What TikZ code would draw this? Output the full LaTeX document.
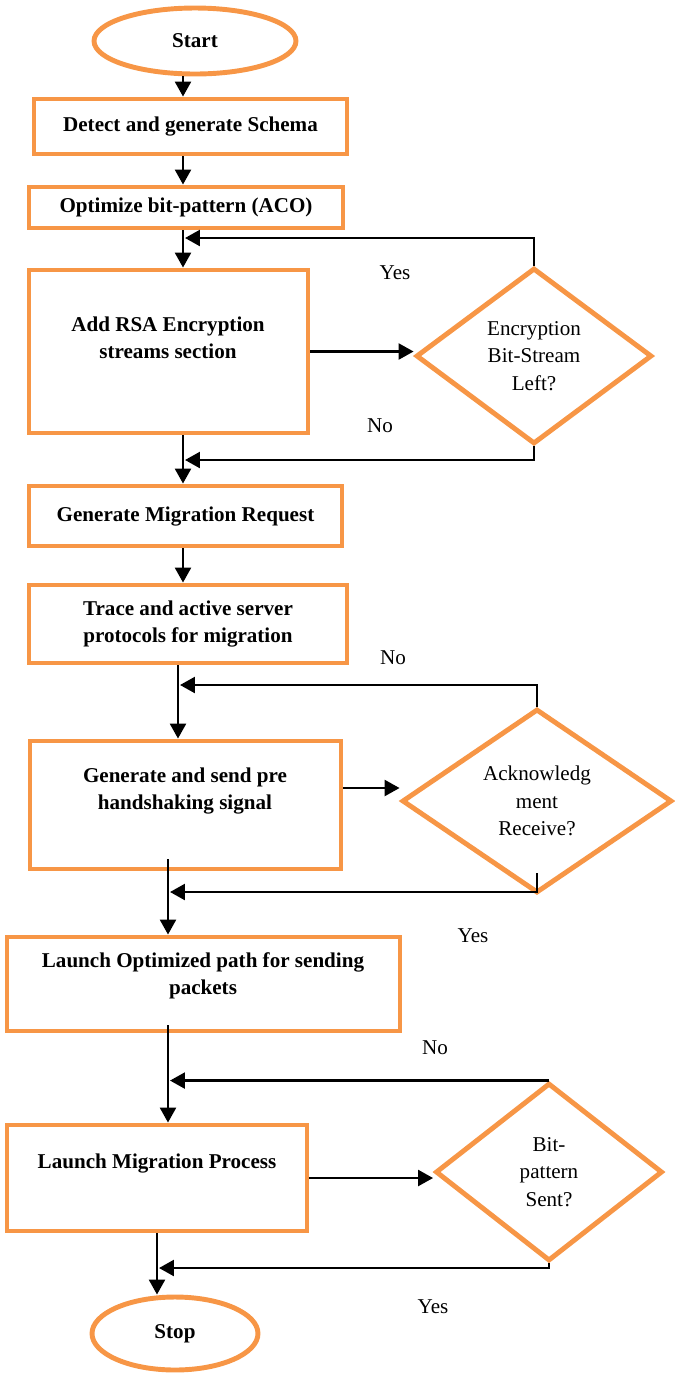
\documentclass[tikz,border=0pt]{standalone}
\usepackage{fontspec}
\setmainfont{Liberation Serif}
\usetikzlibrary{shapes.geometric}
\usetikzlibrary{arrows.meta}
\definecolor{boxorange}{HTML}{F79646}
\tikzset{x=0.02cm, y=-0.02cm,
every node/.style={font=\fontsize{12}{15.5}\selectfont},
process/.style={ % Sets the properties for each process box
draw=boxorange,
line width=2.8pt,
inner sep=0pt,
align=center,
font=\fontsize{12}{15.5}\selectfont\bfseries},
proctext/.style={align=center, inner sep=0pt,
font=\fontsize{12}{15.5}\selectfont\bfseries},
terminal/.style={ellipse, % Start and stop
draw=boxorange,
line width=2.8pt,
inner sep=0pt,
font=\fontsize{12}{15.5}\selectfont\bfseries},
decision/.style={diamond, % Question boxes
draw=boxorange,
line width=2.8pt,
inner sep=0pt,
align=center},
flow/.style={ % Sets the properties for each connector
draw,
line width=1.4pt,
-{Triangle[length=3mm,width=3.2mm]}}}

\begin{document}
\begin{tikzpicture}
\useasboundingbox (0,0) rectangle (675,1374);
\node[terminal, minimum width=4.04cm, minimum height=1.32cm] (start) at (195,41) {Start};
\node[process, minimum width=6.26cm, minimum height=1.10cm] (detect) at (190.5,126.5) {Detect and generate Schema};
\node[process, minimum width=6.28cm, minimum height=0.82cm] (aco) at (186,207.5) {Optimize bit-pattern (ACO)};
\node[process, minimum width=5.58cm, minimum height=3.26cm] (rsa) at (168.5,351.5) {};
\node[proctext] (rsatext) at (168,338) {Add RSA Encryption\\streams section};
\node[decision, minimum width=4.72cm, minimum height=3.52cm] (dec1) at (534,356) {Encryption\\Bit-Stream\\Left?};
\node[process, minimum width=6.26cm, minimum height=1.20cm] (gmr) at (185.5,516) {Generate Migration Request};
\node[process, minimum width=6.36cm, minimum height=1.56cm] (trace) at (188,624) {Trace and active server\\protocols for migration};
\node[process, minimum width=6.22cm, minimum height=2.56cm] (send) at (185.5,805) {};
\node[proctext] (sendtext) at (185,791) {Generate and send pre\\handshaking signal};
\node[decision, minimum width=5.40cm, minimum height=3.68cm] (dec2) at (537,801) {Acknowledg\\ment\\Receive?};
\node[process, minimum width=7.86cm, minimum height=1.88cm] (launchopt) at (203.5,984) {};
\node[proctext] (launchopttext) at (203,976) {Launch Optimized path for sending\\packets};
\node[process, minimum width=6.00cm, minimum height=2.12cm] (launchmig) at (157,1178) {};
\node[proctext] (launchmigtext) at (157,1163) {Launch Migration Process};
\node[decision, minimum width=4.54cm, minimum height=3.56cm] (dec3) at (549,1172) {Bit-\\pattern\\Sent?};
\node[terminal, minimum width=3.32cm, minimum height=1.46cm] (stop) at (175,1333.5) {Stop};

% loop-back points
\coordinate (j1) at (185,238);
\coordinate (j2) at (185,460);
\coordinate (j3) at (180,685);
\coordinate (j4) at (170,892);
\coordinate (j5) at (170,1079);
\coordinate (j6) at (159,1268);

\draw[flow] (183,0 |- start.south) -- (183,0 |- detect.north);
\draw[flow] (183,0 |- detect.south) -- (183,0 |- aco.north);
\draw[flow] (183,0 |- aco.south) -- (183,0 |- rsa.north);
\draw[flow] (rsa.east) -- (rsa.east -| dec1.west);
\draw[flow] (dec1.north) |- (j1);
\draw[flow] (dec1.south) |- (j2);
\draw[flow] (183,0 |- rsa.south) -- (183,0 |- gmr.north);
\draw[flow] (183,0 |- gmr.south) -- (183,0 |- trace.north);
\draw[flow] (178,0 |- trace.south) -- (178,0 |- send.north);
\draw[flow] (send.east |- 0,788) -- (dec2.west |- 0,788);
\draw[flow] (dec2.north) |- (j3);
\draw[flow] ([yshift=0.44cm]dec2.south) |- (j4);
\draw[flow] (168,0 |- send.south) ++(0,-12) -- (168,0 |- launchopt.north);
\draw[flow] (168,0 |- launchopt.south) ++(0,-8) -- (168,0 |- launchmig.north);
\draw[flow] (launchmig.east) -- (launchmig.east -| dec3.west);
\draw[flow] (dec3.north) -- (dec3.north -| j5);
\draw[flow] (dec3.south) |- (j6);
\draw[flow] (157,0 |- launchmig.south) -- (157,0 |- stop.north);

\node (yes1) at (395,273) {Yes};
\node (no1) at (380,426) {No};
\node (no2) at (393,658) {No};
\node (yes2) at (473,936) {Yes};
\node (no3) at (435,1048) {No};
\node (yes3) at (433,1307) {Yes};
\end{tikzpicture}
\end{document}
